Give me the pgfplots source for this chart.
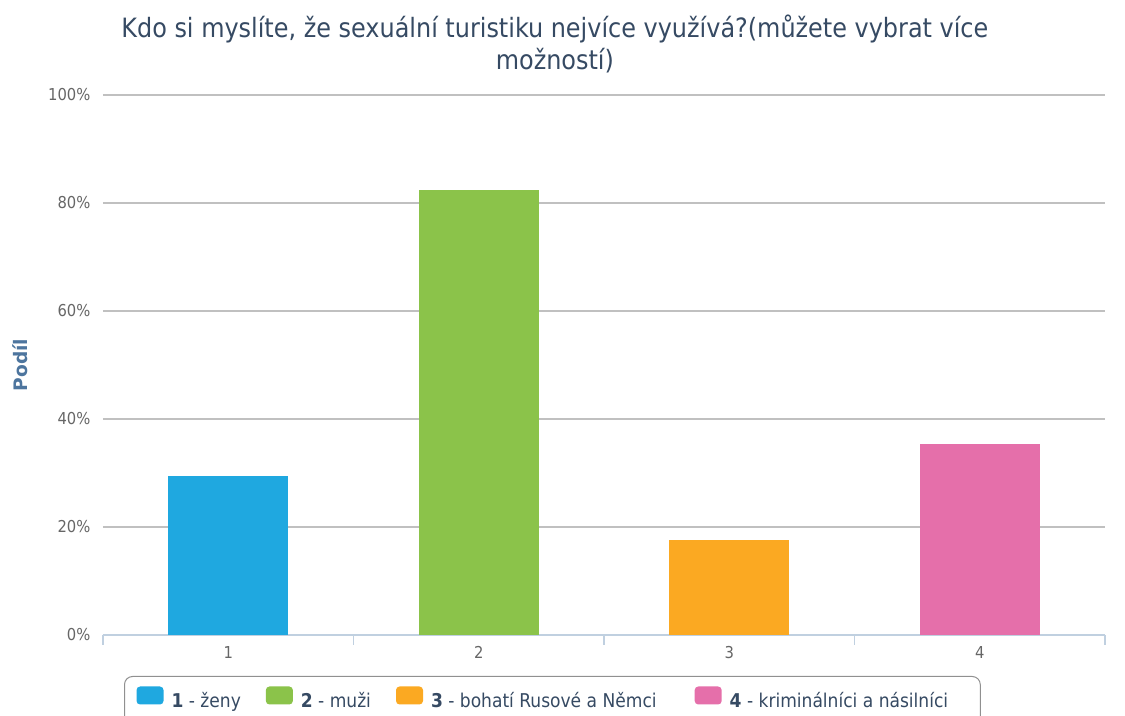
\documentclass[border=0pt]{standalone}
\usepackage{pgfplots}
\pgfplotsset{compat=1.18}
\usepackage{fontspec}
\setmainfont{DejaVu Sans}
\newfontfamily\condfont{DejaVu Sans Condensed}
\definecolor{c1}{HTML}{1FA8E0}
\definecolor{c2}{HTML}{8BC34A}
\definecolor{c3}{HTML}{FBA922}
\definecolor{c4}{HTML}{E56FAA}
\definecolor{titlecol}{HTML}{364A63}
\definecolor{tickcol}{HTML}{666666}
\definecolor{ylabcol}{HTML}{4D759E}
\definecolor{axcol}{HTML}{C0D0E0}
\definecolor{gridcol}{HTML}{C0C0C0}
\definecolor{legcol}{HTML}{909090}
\pgfplotsset{mylegimg/.style={legend image code/.code={\fill[##1,rounded corners=1.8pt] (0pt,-1.3pt) rectangle (13.5pt,7.7pt); \path (15.5pt,0pt);}}}
\begin{document}
\begin{tikzpicture}
\path[use as bounding box] (-51.5pt,-40.5pt) rectangle (511pt,317.5pt);
\begin{axis}[
  at={(0,0)}, anchor=south west,
  scale only axis, width=501pt, height=270pt,
  xmin=0.5, xmax=4.5, ymin=0, ymax=100,
  ybar, bar width=60pt, bar shift=0pt,
  axis x line*=bottom, axis y line*=left,
  y axis line style={draw=none},
  x axis line style={color=axcol, line width=0.6pt},
  xtick={1,2,3,4}, xticklabels={1,2,3,4},
  minor xtick={0.5,1.5,2.5,3.5,4.5},
  major x tick style={draw=none},
  minor x tick style={color=axcol, line width=0.6pt},
  minor tick length=5pt, tick align=outside,
  ytick={0,20,40,60,80,100},
  yticklabels={0\%,20\%,40\%,60\%,80\%,100\%},
  ytick style={draw=none},
  ymajorgrids, grid style={color=gridcol, line width=0.6pt},
  ticklabel style={font=\condfont\fontsize{8.2}{9}\selectfont, text=tickcol},
  yticklabel style={xshift=1.5pt},
  xticklabel style={yshift=2pt},
  title={Kdo si myslíte, že sexuální turistiku nejvíce využívá?(můžete vybrat více\\možností)},
  title style={font=\condfont\fontsize{13.3}{16}\selectfont, text=titlecol, align=center, at={(0.451,1)}, anchor=south, yshift=1.5pt},
  ylabel={Podíl},
  ylabel style={font=\bfseries\fontsize{9.3}{10}\selectfont, text=ylabcol, at={(axis description cs:-0.083,0.5)}, anchor=center},
  legend style={at={(0.4485,0)}, anchor=north, yshift=-20.5pt, legend columns=4, draw=legcol, rounded corners=4pt,
    font=\condfont\fontsize{9.5}{12}\selectfont, text=titlecol, line width=0.5pt, inner ysep=5pt, inner xsep=6pt,
    /tikz/every even column/.append style={column sep=10.5pt}},
  legend cell align=left,
]
\addplot[fill=c1, draw=none, mylegimg] coordinates {(1,29.41)};
\addlegendentry{\textbf{1} - ženy}
\addplot[fill=c2, draw=none, mylegimg] coordinates {(2,82.35)};
\addlegendentry{\textbf{2} - muži}
\addplot[fill=c3, draw=none, mylegimg] coordinates {(3,17.65)};
\addlegendentry{\textbf{3} - bohatí Rusové a Němci\rule{6.5pt}{0pt}}
\addplot[fill=c4, draw=none, mylegimg] coordinates {(4,35.29)};
\addlegendentry{\textbf{4} - kriminálníci a násilníci\rule{8pt}{0pt}}
\end{axis}
\end{tikzpicture}
\end{document}
